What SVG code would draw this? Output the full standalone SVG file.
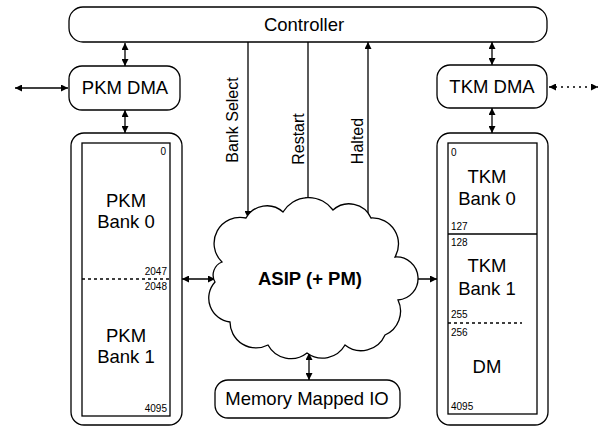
<svg xmlns="http://www.w3.org/2000/svg" width="604" height="427" viewBox="0 0 604 427">
<defs>
<marker id="ah" viewBox="0 0 10 10" refX="10" refY="5" markerWidth="8" markerHeight="7" markerUnits="userSpaceOnUse" orient="auto-start-reverse">
<path d="M0,0 L10,5 L0,10 z" fill="#000"/>
</marker>
</defs>
<style>
.box{fill:#fff;stroke:#000;stroke-width:1.3}
.mem{fill:none;stroke:#000;stroke-width:1.3}
.lbl{font-family:"Liberation Sans",Arial,sans-serif;font-size:18.5px;fill:#000;text-anchor:middle}
.big{font-family:"Liberation Sans",Arial,sans-serif;font-size:18.5px;font-weight:bold;fill:#000;text-anchor:middle}
.sig{font-family:"Liberation Sans",Arial,sans-serif;font-size:16px;fill:#000;text-anchor:middle}
.num{font-family:"Liberation Sans",Arial,sans-serif;font-size:10px;fill:#000}
.c{fill:none;stroke:#000;stroke-width:1.3}
.d{marker-start:url(#ah);marker-end:url(#ah)}
.e{marker-end:url(#ah)}
</style>
<rect width="604" height="427" fill="#fff"/>

<g id="connectors">
<line class="c d" x1="125" y1="43" x2="125" y2="66"/>
<line class="c d" x1="125" y1="110" x2="125" y2="133"/>
<line class="c d" x1="492" y1="42" x2="492" y2="65"/>
<line class="c d" x1="492" y1="108" x2="492" y2="133"/>
<line class="c d" x1="15" y1="88" x2="68" y2="88"/>
<line class="c d" x1="549" y1="87" x2="598" y2="87" stroke-dasharray="2 4"/>
<line class="c d" x1="182" y1="279" x2="215" y2="279"/>
<line class="c d" x1="404" y1="279" x2="437" y2="279"/>
<line class="c d" x1="309" y1="353" x2="309" y2="380"/>
<line class="c e" x1="248" y1="42" x2="248" y2="218"/>
<line class="c e" x1="308" y1="42" x2="308" y2="204"/>
<line class="c e" x1="368" y1="222" x2="368" y2="42"/>
<text class="sig" transform="translate(238,120) rotate(-90)">Bank Select</text>
<text class="sig" transform="translate(304,139) rotate(-90)">Restart</text>
<text class="sig" transform="translate(363,141) rotate(-90)">Halted</text>
</g>

<g id="controller">
<rect class="box" x="69" y="7" width="478" height="35" rx="14"/>
<text class="lbl" x="304" y="31">Controller</text>
</g>

<g id="pkm-dma">
<rect class="box" x="69" y="66" width="111" height="44" rx="13"/>
<text class="lbl" x="125" y="94">PKM DMA</text>
</g>

<g id="tkm-dma">
<rect class="box" x="437" y="65" width="110" height="43" rx="13"/>
<text class="lbl" x="492" y="93">TKM DMA</text>
</g>

<g id="pkm">
<rect class="box" x="71" y="133" width="111" height="292" rx="13"/>
<rect class="mem" x="82" y="143" width="88" height="273"/>
<line class="mem" x1="82" y1="279" x2="170" y2="279" stroke-dasharray="3 3"/>
<text class="num" x="166" y="155" text-anchor="end">0</text>
<text class="num" x="167" y="275" text-anchor="end">2047</text>
<text class="num" x="167" y="290" text-anchor="end">2048</text>
<text class="num" x="167" y="412" text-anchor="end">4095</text>
<text class="lbl" x="126" y="207">PKM</text>
<text class="lbl" x="126" y="228">Bank 0</text>
<text class="lbl" x="126" y="342">PKM</text>
<text class="lbl" x="126" y="363">Bank 1</text>
</g>

<g id="tkm">
<rect class="box" x="437" y="133" width="111" height="292" rx="13"/>
<rect class="mem" x="448" y="143" width="89" height="271"/>
<line class="mem" x1="448" y1="234" x2="537" y2="234"/>
<line class="mem" x1="448" y1="323" x2="522" y2="323" stroke-dasharray="3 3"/>
<text class="num" x="451" y="156">0</text>
<text class="num" x="451" y="230">127</text>
<text class="num" x="451" y="246">128</text>
<text class="num" x="451" y="318">255</text>
<text class="num" x="451" y="336">256</text>
<text class="num" x="451" y="410">4095</text>
<text class="lbl" x="487" y="183">TKM</text>
<text class="lbl" x="487" y="205">Bank 0</text>
<text class="lbl" x="487" y="272">TKM</text>
<text class="lbl" x="487" y="295">Bank 1</text>
<text class="lbl" x="487" y="373">DM</text>
</g>

<g id="asip">
<path class="box" d="M222,262 A26,26 0 0 1 246,218 A24,24 0 0 1 283,212 A30,30 0 0 1 333,210 A24,24 0 0 1 371,218 A26,26 0 0 1 395,257 A14,14 0 0 1 398,300 A26,26 0 0 1 385,335 A26,26 0 0 1 345,345 A26,26 0 0 1 307,353 A26,26 0 0 1 268,345 A26,26 0 0 1 230,322 A24,24 0 0 1 215,282 A14,14 0 0 1 222,262 z"/>
<text class="big" x="310" y="285">ASIP (+ PM)</text>
</g>

<g id="mmio">
<rect class="box" x="215" y="380" width="185" height="38" rx="13"/>
<text class="lbl" x="307" y="405">Memory Mapped IO</text>
</g>
</svg>
